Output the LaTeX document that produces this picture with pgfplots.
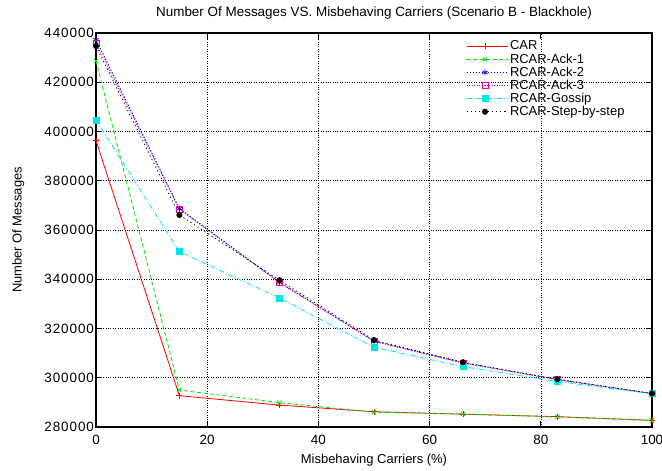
\documentclass[border=0pt]{standalone}
\usepackage{pgfplots}
\pgfplotsset{compat=1.18}
\usepackage{fontspec}
\setmainfont{Liberation Sans}
\definecolor{gpgreen}{RGB}{0,225,0}
\definecolor{gpcyan}{RGB}{0,230,230}
\begin{document}
\fontsize{13}{15}\selectfont
\begin{tikzpicture}
\useasboundingbox (0,0) rectangle (662bp,471bp);
\begin{axis}[
  at={(96bp,44bp)}, anchor=south west,
  scale only axis, width=556bp, height=394bp,
  xmin=0, xmax=100, ymin=280000, ymax=440000,
  xtick={0,20,40,60,80,100},
  ytick={280000,300000,320000,340000,360000,380000,400000,420000,440000},
  scaled y ticks=false,
  /pgf/number format/assume math mode=true,
  yticklabel={\pgfmathprintnumber[fixed,1000 sep={},precision=0]{\tick}},
  xticklabel style={font=\fontsize{13.5}{15}\selectfont, anchor=center, yshift=-12.5bp},
  yticklabel style={font=\fontsize{13.5}{15}\selectfont\addfontfeatures{LetterSpace=7}, xshift=2.5bp},
  tick align=inside, major tick length=6bp,
  grid=major, major grid style={black, dotted, line width=0.6bp},
  axis line style={black, line width=1.1bp},
  every tick/.style={black, line width=0.8bp},
  xlabel={Misbehaving Carriers (\%)},
  ylabel={Number Of Messages},
  label style={font=\fontsize{13}{15}\selectfont},
  xlabel style={at={(axis description cs:0.5,-0.084)}, anchor=center},
  ylabel style={at={(axis description cs:-0.14,0.5)}, anchor=center},
  title={Number Of Messages VS. Misbehaving Carriers (Scenario B - Blackhole)},
  every axis title shift=0pt,
  title style={font=\fontsize{13.5}{15}\selectfont, at={(axis description cs:0.5,1.05)}, anchor=center},
  legend style={at={(axis cs:66,438500)}, anchor=north west, draw=none, fill=none,
    font=\fontsize{13}{14}\selectfont, row sep=-2.2bp,
    legend cell align=left},
  legend image code/.code={
    \path (0cm,0cm) -- (1.45cm,0cm);
    \draw[mark repeat=2,mark phase=2,#1] plot coordinates {(0cm,0cm) (0.65cm,0cm) (1.3cm,0cm)};},
  every axis plot/.append style={line width=0.8bp, mark size=3bp},
]
\addplot[red, mark=+] coordinates {(0,396300) (15,292700) (33,288900) (50,286200) (66,285200) (83,284200) (100,282700)};
\addlegendentry{CAR}
\addplot[gpgreen, dash pattern=on 4bp off 2.5bp, mark=x, mark options={solid}] coordinates {(0,428700) (15,295000) (33,289900) (50,286000) (66,285300) (83,284100) (100,282600)};
\addlegendentry{RCAR-Ack-1}
\addplot[blue, dash pattern=on 1.5bp off 1.5bp, mark=asterisk, mark options={solid}] coordinates {(0,437200) (15,368700) (33,338800) (50,314900) (66,306100) (83,299300) (100,293600)};
\addlegendentry{RCAR-Ack-2}
\addplot[magenta, dash pattern=on 1bp off 1.5bp, mark=square, mark options={solid}] coordinates {(0,435800) (15,368400) (33,338600) (50,314800) (66,305900) (83,299200) (100,293500)};
\addlegendentry{RCAR-Ack-3}
\addplot[gpcyan, dash pattern=on 5bp off 2bp on 1bp off 2bp, mark=square*, mark options={solid}] coordinates {(0,404700) (15,351200) (33,332400) (50,312400) (66,304500) (83,298500) (100,293500)};
\addlegendentry{RCAR-Gossip}
\addplot[black, dash pattern=on 1.2bp off 3bp, mark=*, mark size=2.6bp, mark options={solid}] coordinates {(0,434700) (15,366100) (33,339600) (50,315300) (66,306300) (83,299400) (100,293600)};
\addlegendentry{RCAR-Step-by-step}
\end{axis}
\end{tikzpicture}
\end{document}
